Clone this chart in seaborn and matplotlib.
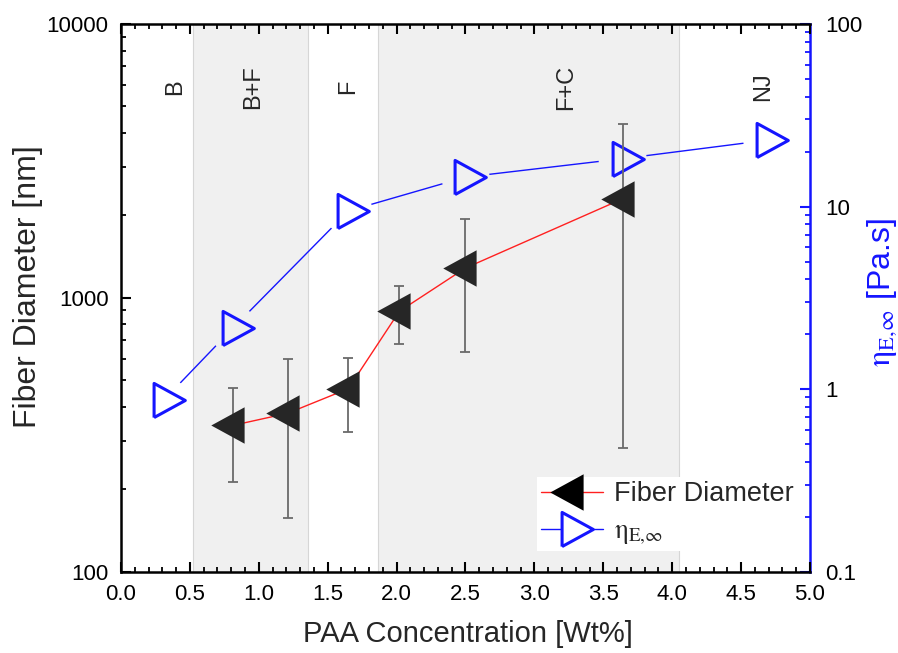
import matplotlib
matplotlib.use("Agg")
import matplotlib.pyplot as plt
from matplotlib.lines import Line2D
from matplotlib.ticker import (FixedLocator, FixedFormatter, LogLocator,
                               NullFormatter, MultipleLocator)
import seaborn as sns

# Fiber diameter (nm) vs PAA concentration (wt%), with error-bar limits
fiber_conc = [0.81, 1.21, 1.65, 2.02, 2.50, 3.64]
fiber_diam = [342, 379, 466, 893, 1285, 2300]
fiber_hi = [469, 600, 602, 1105, 1935, 4310]
fiber_lo = [213, 157, 324, 677, 636, 284]

# Steady extensional viscosity (Pa.s) vs PAA concentration (wt%)
visc_conc = [0.31, 0.81, 1.65, 2.50, 3.64, 4.69]
visc_val = [0.87, 2.15, 9.46, 14.5, 18.3, 23.1]

# Morphology regimes: label names, their concentration, shaded ranges
regime_names = ["B", "B+F", "F", "F+C", "NJ"]
regime_conc = [0.39, 0.96, 1.65, 3.23, 4.66]
shaded_ranges = [(0.525, 1.36), (1.867, 4.05)]

x_ticks = [0.0, 0.5, 1.0, 1.5, 2.0, 2.5, 3.0, 3.5, 4.0, 4.5, 5.0]
left_ticks = [100, 1000, 10000]
left_tick_labels = ["100", "1000", "10000"]
right_ticks = [0.1, 1, 10, 100]
right_tick_labels = ["0.1", "1", "10", "100"]

sns.set_theme(style="ticks")
plt.rcParams["font.family"] = ["Liberation Sans", "DejaVu Sans"]
plt.rcParams["mathtext.fontset"] = "stix"

BLUE = "#1515ff"
BAND = "#f0f0f0"
FIBER = "#262626"
ERR = "#6a6a6a"
ETA = r"$\mathrm{\eta}_{\mathrm{E}{,}\infty}$"

# triangle markers whose centroid sits on the data point
right_tri = [(-0.5, -0.82), (-0.5, 0.82), (1.0, 0.0), (-0.5, -0.82)]
left_tri = [(0.5, -0.82), (0.5, 0.82), (-1.0, 0.0), (0.5, -0.82)]

fig = plt.figure(figsize=(8.98, 6.53), dpi=100)
ax = fig.add_axes([0.1347, 0.1245, 0.7673, 0.8387])   # fiber diameter (left)
ax2 = ax.twinx()                                       # viscosity (right)
ax.set_zorder(ax2.get_zorder() + 1)
ax.patch.set_visible(False)
ax2.patch.set_visible(True)
ax2.patch.set_facecolor("white")

# shaded morphology regions
for lo, hi in shaded_ranges:
    ax2.axvspan(lo, hi, facecolor=BAND, edgecolor="#d6d6d6", lw=0.8, zorder=0)

# viscosity series
ax2.set_yscale("log")
ax2.set_ylim(0.1, 100)
sns.lineplot(x=visc_conc, y=visc_val, ax=ax2, color=BLUE, lw=1.0,
             zorder=2, legend=False)
gap_colors = [BAND if any(lo <= c <= hi for lo, hi in shaded_ranges) else "white"
              for c in visc_conc]
ax2.scatter(visc_conc, visc_val, s=1196, marker="o", c=gap_colors,
            linewidths=0, zorder=3)
ax2.plot(visc_conc, visc_val, ls="none", marker=right_tri, ms=30,
         mfc="none", mec=BLUE, mew=2.2, zorder=4)

# fiber diameter series
ax.set_yscale("log")
ax.set_ylim(100, 10000)
ax.set_xlim(0, 5)
err = [[d - l for d, l in zip(fiber_diam, fiber_lo)],
       [h - d for d, h in zip(fiber_diam, fiber_hi)]]
ax.errorbar(fiber_conc, fiber_diam, yerr=err, fmt="none", ecolor=ERR,
            elinewidth=1.3, capsize=3.8, capthick=1.3, zorder=2)
sns.lineplot(x=fiber_conc, y=fiber_diam, ax=ax, color="#ff2020", lw=1.0,
             zorder=3, legend=False)
ax.plot(fiber_conc, fiber_diam, ls="none", marker=left_tri, ms=32,
        mfc=FIBER, mec="none", zorder=4)

# regime labels
for name, c in zip(regime_names, regime_conc):
    ax.text(c, 0.885, name, rotation=90, fontsize=17, ha="center", va="center",
            transform=ax.get_xaxis_transform(), zorder=5)

# axes styling
ax.xaxis.set_major_locator(FixedLocator(x_ticks))
ax.xaxis.set_major_formatter(FixedFormatter([f"{t:.1f}" for t in x_ticks]))
ax.xaxis.set_minor_locator(MultipleLocator(0.1))
ax.yaxis.set_major_locator(FixedLocator(left_ticks))
ax.yaxis.set_major_formatter(FixedFormatter(left_tick_labels))
ax.yaxis.set_minor_locator(LogLocator(base=10, subs=range(2, 10)))
ax.yaxis.set_minor_formatter(NullFormatter())
ax2.yaxis.set_major_locator(FixedLocator(right_ticks))
ax2.yaxis.set_major_formatter(FixedFormatter(right_tick_labels))
ax2.yaxis.set_minor_locator(LogLocator(base=10, subs=range(2, 10)))
ax2.yaxis.set_minor_formatter(NullFormatter())

for side in ["left", "top", "bottom"]:
    ax.spines[side].set_linewidth(1.8)
    ax.spines[side].set_color("black")
    ax2.spines[side].set_visible(False)
ax.spines["right"].set_visible(False)
ax2.spines["right"].set_linewidth(1.8)
ax2.spines["right"].set_color(BLUE)

ax.tick_params(axis="x", which="both", direction="in", top=True, bottom=True,
               labelsize=16, pad=9, colors="black")
ax.tick_params(axis="y", which="both", direction="in", left=True, right=False,
               labelsize=16, pad=9, colors="black")
ax.tick_params(which="major", length=7, width=1.5)
ax.tick_params(which="minor", length=3.8, width=1.3)
ax2.tick_params(axis="y", which="both", direction="in", right=True, left=False,
                labelsize=16, pad=11, color=BLUE, labelcolor="black")
ax2.tick_params(which="major", length=7, width=1.5)
ax2.tick_params(which="minor", length=3.8, width=1.3)

ax.set_xlabel("PAA Concentration [Wt%]", fontsize=21)
ax.xaxis.set_label_coords(0.504, -0.088)
ax.set_ylabel("Fiber Diameter [nm]", fontsize=23)
ax.yaxis.set_label_coords(-0.113, 0.52)
ax2.set_ylabel(ETA + " [Pa.s]", fontsize=23, color=BLUE)
ax2.yaxis.set_label_coords(1.080, 0.509)

handles = [
    Line2D([], [], color="#ff2020", lw=1.0, marker=left_tri, ms=32,
           mfc="black", mec="none"),
    Line2D([], [], color=BLUE, lw=1.0, marker=right_tri, ms=30,
           mfc="white", mec=BLUE, mew=2.2),
]
labels = ["Fiber Diameter", ETA]
leg = ax.legend(handles, labels, loc="upper left", bbox_to_anchor=(0.604, 0.173),
                borderaxespad=0, fontsize=19.5, frameon=True, fancybox=False,
                framealpha=1, edgecolor="none", facecolor="white",
                handlelength=2.3, handletextpad=0.4, borderpad=0.15,
                labelspacing=0.42, numpoints=1)
leg.set_zorder(10)

fig.savefig("out.png", dpi=100)
